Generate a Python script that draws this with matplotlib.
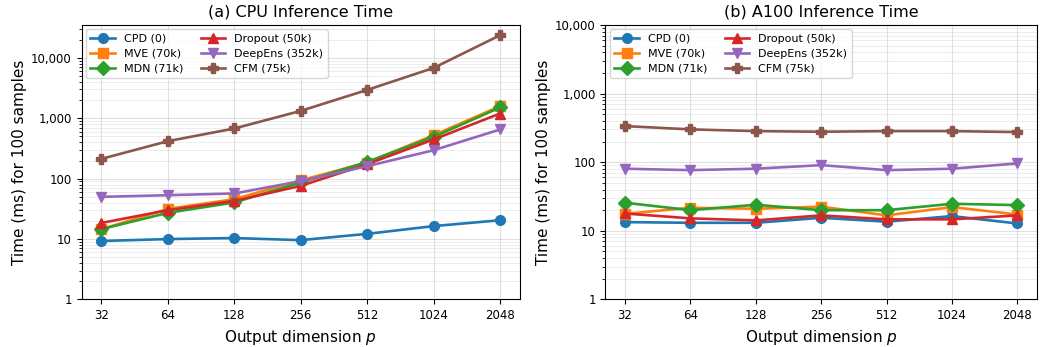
import matplotlib
matplotlib.use('Agg')
import matplotlib.pyplot as plt
import matplotlib.ticker as mticker

dims = [32, 64, 128, 256, 512, 1024, 2048]

labels = ['CPD (0)', 'MVE (70k)', 'MDN (71k)', 'Dropout (50k)', 'DeepEns (352k)', 'CFM (75k)']
markers = ['o', 's', 'D', '^', 'v', 'P']
colors = ['tab:blue', 'tab:orange', 'tab:green', 'tab:red', 'tab:purple', 'tab:brown']

# CPU timings (ms per 100 samples)
cpu_cpd = [9.3, 10.0, 10.4, 9.6, 12.2, 16.4, 20.5]
cpu_mve = [14.6, 31.6, 45.8, 94, 185, 525, 1590]
cpu_mdn = [14.6, 27.2, 40.4, 86.5, 190, 492, 1510]
cpu_dropout = [18.5, 30.1, 42.9, 76, 174, 446, 1200]
cpu_deepens = [50, 53.3, 56.9, 91, 161, 296, 653]
cpu_cfm = [213, 418, 678, 1326, 2950, 6830, 23700]

# A100 timings (ms per 100 samples)
gpu_cpd = [13.4, 13.1, 13.1, 15.5, 13.6, 16.4, 12.8]
gpu_mve = [17.7, 21.7, 21.0, 22.5, 16.8, 22.2, 17.3]
gpu_mdn = [25.7, 20.0, 24.0, 20.0, 20.0, 24.8, 23.7]
gpu_dropout = [17.9, 15.2, 14.2, 16.8, 14.7, 14.7, 16.8]
gpu_deepens = [80.4, 76.7, 80.4, 90.7, 76.7, 80.4, 96]
gpu_cfm = [336, 301, 284, 278, 284, 284, 275]

cpu = [cpu_cpd, cpu_mve, cpu_mdn, cpu_dropout, cpu_deepens, cpu_cfm]
gpu = [gpu_cpd, gpu_mve, gpu_mdn, gpu_dropout, gpu_deepens, gpu_cfm]

fig = plt.figure(figsize=(10.4, 3.47), dpi=100)
ax1 = fig.add_axes([0.0784, 0.137, 0.4216, 0.791])
ax2 = fig.add_axes([0.5822, 0.137, 0.4149, 0.791])


def panel(ax, series, title):
    for vals, lab, m, c in zip(series, labels, markers, colors):
        ax.plot(dims, vals, marker=m, color=c, label=lab, linewidth=1.9, markersize=7)
    ax.set_xscale('log', base=2)
    ax.set_yscale('log')
    ax.set_xticks(dims)
    ax.xaxis.set_major_formatter(mticker.FixedFormatter([str(d) for d in dims]))
    ax.xaxis.set_minor_locator(mticker.NullLocator())
    ax.yaxis.set_major_formatter(mticker.FuncFormatter(lambda v, _: '{:,.0f}'.format(v)))
    ax.yaxis.set_minor_formatter(mticker.NullFormatter())
    ax.tick_params(labelsize=8.5)
    ax.grid(True, which='major', color='#cccccc', alpha=0.6, linewidth=0.8)
    ax.grid(True, which='minor', axis='y', color='#dddddd', alpha=0.6, linewidth=0.6)
    ax.set_xlabel('Output dimension $p$', fontsize=11)
    ax.set_ylabel('Time (ms) for 100 samples', fontsize=11, labelpad=3)
    ax.set_title(title, fontsize=11.5)
    ax.legend(loc='upper left', ncol=2, fontsize=8, handlelength=2.2,
              columnspacing=1.6, borderaxespad=0.4, labelspacing=0.45)


panel(ax1, cpu, '(a) CPU Inference Time')
ax1.set_ylim(bottom=1)
panel(ax2, gpu, '(b) A100 Inference Time')
ax2.set_ylim(1, 10000)

plt.savefig('out.png', dpi=100)
